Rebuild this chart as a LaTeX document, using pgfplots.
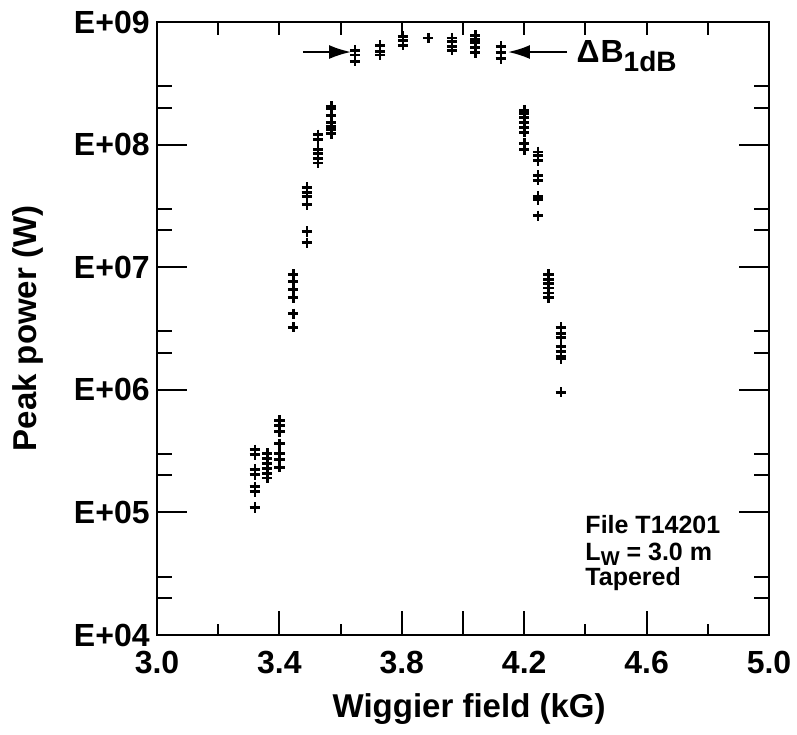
\documentclass[border=0pt]{standalone}
\usepackage{pgfplots}
\pgfplotsset{compat=1.18}
\usepackage{pgfplotstable}
\usepackage{fontspec}
\setmainfont{Liberation Sans}
\usetikzlibrary{arrows.meta}

\tikzset{lblfont/.style={font=\fontsize{16}{16}\selectfont\bfseries},
         axlblfont/.style={font=\fontsize{16.5}{16.5}\selectfont\bfseries},
         boxfont/.style={anchor=base west, inner sep=0pt, font=\fontsize{12.5}{13.5}\selectfont\bfseries}}
\pgfplotsset{
  mybase/.style={width=306pt, height=306.5pt, scale only axis,
    xmin=3, xmax=5, ymin=1e4, ymax=1e9,
    axis line style={line width=1.2pt},
    tick style={line width=1pt, black},
    tick align=inside, clip=false}
}

\pgfplotstableread{
x y
3.32 3.24e5
3.32 2.95e5
3.32 2.24e5
3.32 2.04e5
3.32 1.62e5
3.32 1.48e5
3.32 1.10e5
3.36 3.02e5
3.36 2.75e5
3.36 2.51e5
3.36 2.29e5
3.36 2.09e5
3.36 1.91e5
3.40 5.62e5
3.40 5.13e5
3.40 4.57e5
3.40 3.63e5
3.40 3.02e5
3.40 2.69e5
3.40 2.34e5
3.445 8.71e6
3.445 7.59e6
3.445 6.61e6
3.445 5.62e6
3.445 4.17e6
3.445 3.24e6
3.49 4.47e7
3.49 4.07e7
3.49 3.80e7
3.49 3.24e7
3.49 1.95e7
3.49 1.58e7
3.526 1.20e8
3.526 1.10e8
3.526 9.12e7
3.526 8.51e7
3.526 7.76e7
3.526 7.08e7
3.569 2.04e8
3.569 1.95e8
3.569 1.74e8
3.569 1.51e8
3.569 1.41e8
3.569 1.32e8
3.569 1.23e8
3.647 5.89e8
3.647 5.37e8
3.647 4.79e8
3.729 6.46e8
3.729 5.75e8
3.729 5.37e8
3.804 7.59e8
3.804 7.08e8
3.804 6.46e8
3.886 7.41e8
3.964 7.41e8
3.964 6.92e8
3.964 6.31e8
3.964 5.89e8
4.04 7.76e8
4.04 7.24e8
4.04 6.76e8
4.04 6.17e8
4.04 5.62e8
4.124 6.31e8
4.124 5.62e8
4.124 5.01e8
4.20 1.91e8
4.20 1.78e8
4.20 1.66e8
4.20 1.51e8
4.20 1.38e8
4.20 1.26e8
4.20 1.02e8
4.20 9.12e7
4.245 8.71e7
4.245 8.13e7
4.245 7.41e7
4.245 5.62e7
4.245 5.13e7
4.245 3.80e7
4.245 3.55e7
4.245 2.63e7
4.28 8.71e6
4.28 7.94e6
4.28 7.41e6
4.28 6.76e6
4.28 6.17e6
4.28 5.62e6
4.32 3.24e6
4.32 2.88e6
4.32 2.69e6
4.32 2.24e6
4.32 2.04e6
4.32 1.86e6
4.32 1.78e6
4.32 9.55e5
}\datatable

\begin{document}
\begin{tikzpicture}
% y ticks (left and right)
\begin{semilogyaxis}[mybase, name=B,
  xtick=\empty,
  ytick={1e4,1e5,1e6,1e7,1e8,1e9},
  yticklabels={E+04,E+05,E+06,E+07,E+08,E+09},
  minor ytick={2e4,3e4,2e5,3e5,2e6,3e6,2e7,3e7,2e8,3e8},
  ytick pos=both, yticklabel pos=left,
  major tick length=15pt, minor tick length=7.5pt,
  yticklabel style={lblfont, inner sep=0pt, xshift=-3.5pt},
  ylabel={Peak power (W)},
  ylabel style={axlblfont, at={(axis description cs:-0.211,0.5)}, anchor=center}]
\end{semilogyaxis}
% top ticks
\begin{semilogyaxis}[mybase,
  ytick=\empty,
  xtick={3.2,3.4,3.6,3.8,4.0,4.2,4.4,4.6,4.8},
  xticklabels={},
  xtick pos=right,
  major tick length=6.5pt]
\end{semilogyaxis}
% main axis with data and bottom ticks
\begin{semilogyaxis}[mybase, name=A,
  ytick=\empty,
  xtick={3.0,3.4,3.8,4.0,4.2,4.6,5.0},
  xticklabels={3.0,3.4,3.8,,4.2,4.6,5.0},
  minor xtick={3.2,3.6,4.4,4.8},
  xtick pos=left,
  major tick length=12pt, minor tick length=5.5pt,
  xticklabel style={lblfont, inner sep=0pt, yshift=-8pt},
  xlabel={Wiggier field (kG)},
  xlabel style={axlblfont, at={(axis description cs:0.51,0)}, anchor=center, yshift=-37pt}]
\addplot[only marks, mark=+, mark size=2.6pt, line width=1.4pt, black] table[x=x,y=y]{\datatable};
\draw[line width=1pt, -{Latex[length=11pt,width=7pt]}] (axis cs:3.477,5.69e8) -- (axis cs:3.634,5.69e8);
\draw[line width=1pt, -{Latex[length=11pt,width=7pt]}] (axis cs:4.34,5.69e8) -- (axis cs:4.147,5.69e8);
\node[anchor=base west, inner sep=0pt, font=\fontsize{16}{16}\selectfont\bfseries] at (axis cs:4.37,4.64e8)
  {Δ\kern0.5ptB\raisebox{-4.5pt}{\fontsize{14}{14}\selectfont 1dB}};
\node[boxfont] at (axis cs:4.399,6.79e4) {File T14201};
\node[boxfont] at (axis cs:4.399,4.09e4) {L\raisebox{-2.5pt}{\fontsize{10}{10}\selectfont W} = 3.0 m};
\node[boxfont] at (axis cs:4.399,2.51e4) {Tapered};
\end{semilogyaxis}
\pgfresetboundingbox
\useasboundingbox ([xshift=-78.5pt,yshift=-49.5pt]A.south west) rectangle ([xshift=14pt,yshift=11pt]A.north east);
\end{tikzpicture}
\end{document}
